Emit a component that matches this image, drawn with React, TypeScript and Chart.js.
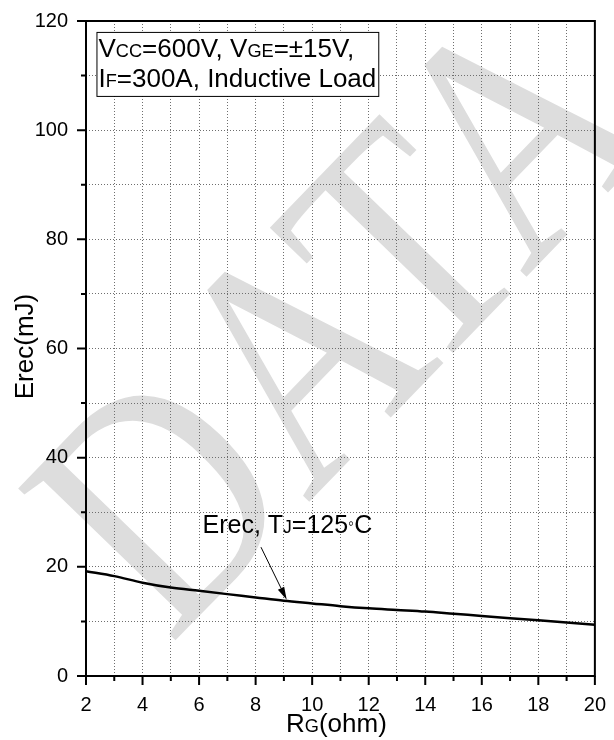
import React, { useEffect, useRef } from "react";
import { Chart, registerables } from "chart.js";

Chart.register(...registerables);

// Reverse recovery energy vs. gate resistance
const rgOhm = [2, 3, 4, 5, 6, 7, 8, 9, 10, 11, 12, 13, 14, 15, 16, 17, 18, 19, 20];
const erecMJ = [19.2, 18.3, 17.1, 16.2, 15.6, 15.0, 14.4, 13.8, 13.3, 12.8, 12.4, 12.1, 11.8, 11.4, 11.0, 10.6, 10.2, 9.8, 9.4];
const xTickLabels = [2, 4, 6, 8, 10, 12, 14, 16, 18, 20];
const yTickLabels = [0, 20, 40, 60, 80, 100, 120];

const SANS = '"Liberation Sans", Arial, sans-serif';
const SERIF = '"Liberation Serif", "Times New Roman", serif';

type Seg = { t: string; small?: boolean; rise?: number };

const noteLines: Seg[][] = [
  [{ t: "V" }, { t: "CC", small: true }, { t: "=600V, V" }, { t: "GE", small: true }, { t: "=±15V," }],
  [{ t: "I" }, { t: "F", small: true }, { t: "=300A, Inductive Load" }],
];
const curveLabel: Seg[] = [
  { t: "Erec, T" },
  { t: "J", small: true },
  { t: "=125" },
  { t: "◦", small: true, rise: 4 },
  { t: "C" },
];
const xTitle: Seg[] = [{ t: "R" }, { t: "G", small: true }, { t: "(ohm)" }];
const yTitle = "Erec(mJ)";

function measureRich(ctx: CanvasRenderingContext2D, segs: Seg[], size: number) {
  return segs.map((s) => {
    ctx.font = `${s.small ? size * 0.7 : size}px ${SANS}`;
    return ctx.measureText(s.t).width;
  });
}

function drawRich(
  ctx: CanvasRenderingContext2D,
  segs: Seg[],
  x: number,
  y: number,
  size: number,
  align: "left" | "center" = "left"
) {
  const widths = measureRich(ctx, segs, size);
  const total = widths.reduce((a, b) => a + b, 0);
  let cx = align === "center" ? x - total / 2 : x;
  ctx.textAlign = "left";
  ctx.textBaseline = "alphabetic";
  segs.forEach((s, i) => {
    ctx.font = `${s.small ? size * 0.7 : size}px ${SANS}`;
    ctx.fillText(s.t, cx, y - (s.rise || 0));
    cx += widths[i];
  });
  return total;
}

function curveAt(x: number) {
  for (let i = 0; i < rgOhm.length - 1; i++) {
    if (x >= rgOhm[i] && x <= rgOhm[i + 1]) {
      const f = (x - rgOhm[i]) / (rgOhm[i + 1] - rgOhm[i]);
      return erecMJ[i] + f * (erecMJ[i + 1] - erecMJ[i]);
    }
  }
  return erecMJ[erecMJ.length - 1];
}

const decor = {
  id: "decor",
  beforeDraw(chart: any) {
    const ctx: CanvasRenderingContext2D = chart.ctx;
    ctx.save();
    ctx.fillStyle = "#ffffff";
    ctx.fillRect(0, 0, chart.width, chart.height);
    // "DATA" stamp across the plot
    ctx.fillStyle = "#dddddd";
    ctx.font = `334px ${SERIF}`;
    ctx.textBaseline = "alphabetic";
    ctx.textAlign = "left";
    ctx.translate(170, 646);
    ctx.rotate((-46 * Math.PI) / 180);
    ctx.scale(0.82, 1);
    ctx.fillText("DATA", 0, 0);
    ctx.restore();
  },
  afterDatasetsDraw(chart: any) {
    const ctx: CanvasRenderingContext2D = chart.ctx;
    const xs = chart.scales.x;
    const ys = chart.scales.y;
    const { left, right, top, bottom } = chart.chartArea;
    ctx.save();
    ctx.fillStyle = "#000";
    ctx.strokeStyle = "#000";

    // frame
    ctx.lineWidth = 2;
    ctx.strokeRect(left, top, right - left, bottom - top);

    // outward tick marks, long on labelled values
    ctx.beginPath();
    xs.ticks.forEach((t: any) => {
      const px = xs.getPixelForValue(t.value);
      const len = xTickLabels.includes(t.value) ? 9 : 5;
      ctx.moveTo(px, bottom);
      ctx.lineTo(px, bottom + len);
    });
    ys.ticks.forEach((t: any) => {
      const py = ys.getPixelForValue(t.value);
      const len = yTickLabels.includes(t.value) ? 9 : 5;
      ctx.moveTo(left, py);
      ctx.lineTo(left - len, py);
    });
    ctx.stroke();

    // test-condition box
    const bx = xs.getPixelForValue(2.37);
    const by = ys.getPixelForValue(118);
    const fs = 26;
    const w = Math.max(
      ...noteLines.map((l) => measureRich(ctx, l, fs).reduce((a, b) => a + b, 0))
    );
    const bw = w + 4;
    const bh = 64;
    ctx.fillStyle = "#fff";
    ctx.fillRect(bx, by, bw, bh);
    ctx.lineWidth = 1;
    ctx.strokeRect(bx + 0.5, by + 0.5, bw, bh);
    ctx.fillStyle = "#000";
    drawRich(ctx, noteLines[0], bx + 2, by + 25.5, fs);
    drawRich(ctx, noteLines[1], bx + 2, by + 55.5, fs);

    // curve label and arrow
    drawRich(ctx, curveLabel, xs.getPixelForValue(6.12), ys.getPixelForValue(26.2), 25);
    const sx = xs.getPixelForValue(8.19);
    const sy = ys.getPixelForValue(23.6);
    const tx = xs.getPixelForValue(9.1);
    const ty = ys.getPixelForValue(curveAt(9.1) + 0.2);
    const ang = Math.atan2(ty - sy, tx - sx);
    const hl = 13;
    const hw = 3.5;
    const baseX = tx - hl * Math.cos(ang);
    const baseY = ty - hl * Math.sin(ang);
    ctx.lineWidth = 1;
    ctx.beginPath();
    ctx.moveTo(sx, sy);
    ctx.lineTo(baseX, baseY);
    ctx.stroke();
    ctx.beginPath();
    ctx.moveTo(tx, ty);
    ctx.lineTo(baseX + hw * Math.sin(ang), baseY - hw * Math.cos(ang));
    ctx.lineTo(baseX - hw * Math.sin(ang), baseY + hw * Math.cos(ang));
    ctx.closePath();
    ctx.fill();

    // axis titles
    drawRich(ctx, xTitle, (left + right) / 2 - 4, 732, 26, "center");
    ctx.save();
    ctx.translate(33, (top + bottom) / 2 - 2);
    ctx.rotate(-Math.PI / 2);
    ctx.font = `26px ${SANS}`;
    ctx.textAlign = "center";
    ctx.textBaseline = "alphabetic";
    ctx.fillText(yTitle, 0, 0);
    ctx.restore();

    ctx.restore();
  },
};

export default function App() {
  const ref = useRef<HTMLCanvasElement>(null);

  useEffect(() => {
    if (!ref.current) return;
    const grid = {
      color: "#6e6e6e",
      lineWidth: 1,
      drawTicks: true,
      tickLength: 9,
      tickColor: "rgba(0,0,0,0)",
    };
    const chart = new Chart(ref.current, {
      type: "line",
      data: {
        datasets: [
          {
            data: rgOhm.map((x, i) => ({ x, y: erecMJ[i] })),
            borderColor: "#000",
            borderWidth: 2.5,
            pointRadius: 0,
            fill: false,
            cubicInterpolationMode: "monotone",
          },
        ],
      },
      options: {
        animation: false,
        responsive: false,
        devicePixelRatio: 1,
        layout: { padding: { top: 21, right: 13, left: 0, bottom: 0 } },
        plugins: { legend: { display: false }, tooltip: { enabled: false } },
        scales: {
          x: {
            type: "linear",
            min: 2,
            max: 20,
            grid,
            border: { display: false, dash: [1, 2] },
            ticks: {
              stepSize: 1,
              autoSkip: false,
              maxRotation: 0,
              padding: 8,
              color: "#000",
              font: { family: SANS, size: 20 },
              callback: (v: any) => (xTickLabels.includes(Number(v)) ? String(v) : ""),
            },
            afterFit: (s: any) => {
              s.height = 64;
            },
          },
          y: {
            min: 0,
            max: 120,
            grid,
            border: { display: false, dash: [1, 2] },
            ticks: {
              stepSize: 10,
              autoSkip: false,
              padding: 9,
              color: "#000",
              font: { family: SANS, size: 20 },
              callback: (v: any) => (yTickLabels.includes(Number(v)) ? String(v) : ""),
            },
            afterFit: (s: any) => {
              s.width = 86;
            },
          },
        },
      },
      plugins: [decor],
    } as any);
    return () => chart.destroy();
  }, []);

  return (
    <div style={{ position: "absolute", left: 0, top: 0, width: 614, height: 740, background: "#fff" }}>
      <canvas ref={ref} width={614} height={740} style={{ display: "block" }} />
    </div>
  );
}
